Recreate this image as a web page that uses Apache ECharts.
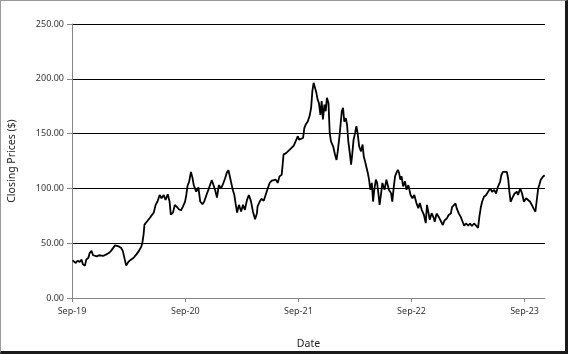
<!DOCTYPE html>
<html>
<head>
<meta charset="utf-8">
<script src="https://cdn.jsdelivr.net/npm/echarts@6/dist/echarts.min.js"></script>
<style>
html, body { margin: 0; padding: 0; background: #fff; }
#main { width: 568px; height: 354px; box-sizing: border-box; border: 1px solid #9a9a9a; border-right: 3px solid #1a1a1a; border-bottom: 3px solid #1a1a1a; }
</style>
</head>
<body>
<div id="main"></div>
<script>
// closing prices (roughly weekly)
var dates = [
    '2019-09-03', '2019-09-06', '2019-09-13', '2019-09-19', '2019-09-26', '2019-10-02', '2019-10-06', '2019-10-13', '2019-10-17', '2019-10-24',
    '2019-10-28', '2019-11-03', '2019-11-08', '2019-11-14', '2019-11-20', '2019-11-27', '2019-12-03', '2019-12-12', '2019-12-21', '2019-12-29',
    '2020-01-05', '2020-01-11', '2020-01-18', '2020-01-24', '2020-01-30', '2020-02-06', '2020-02-12', '2020-02-19', '2020-02-23', '2020-03-01',
    '2020-03-09', '2020-03-18', '2020-03-27', '2020-04-04', '2020-04-11', '2020-04-15', '2020-04-19', '2020-04-22', '2020-04-26', '2020-05-02',
    '2020-05-09', '2020-05-15', '2020-05-22', '2020-05-28', '2020-06-03', '2020-06-10', '2020-06-16', '2020-06-23', '2020-06-29', '2020-07-06',
    '2020-07-12', '2020-07-16', '2020-07-23', '2020-07-29', '2020-08-05', '2020-08-11', '2020-08-18', '2020-08-24', '2020-08-31', '2020-09-04',
    '2020-09-08', '2020-09-13', '2020-09-19', '2020-09-24', '2020-09-28', '2020-10-02', '2020-10-06', '2020-10-13', '2020-10-19', '2020-10-26',
    '2020-11-01', '2020-11-08', '2020-11-14', '2020-11-18', '2020-11-25', '2020-11-29', '2020-12-06', '2020-12-12', '2020-12-18', '2020-12-25',
    '2020-12-31', '2021-01-07', '2021-01-13', '2021-01-18', '2021-01-24', '2021-01-31', '2021-02-06', '2021-02-10', '2021-02-15', '2021-02-21',
    '2021-02-28', '2021-03-06', '2021-03-12', '2021-03-19', '2021-03-25', '2021-04-01', '2021-04-07', '2021-04-14', '2021-04-20', '2021-04-22',
    '2021-04-29', '2021-05-05', '2021-05-12', '2021-05-18', '2021-05-25', '2021-05-31', '2021-06-07', '2021-06-13', '2021-06-20', '2021-06-26',
    '2021-07-02', '2021-07-09', '2021-07-13', '2021-07-15', '2021-07-22', '2021-07-28', '2021-08-04', '2021-08-10', '2021-08-17', '2021-08-23',
    '2021-08-30', '2021-09-03', '2021-09-09', '2021-09-16', '2021-09-20', '2021-09-24', '2021-10-01', '2021-10-07', '2021-10-12', '2021-10-16',
    '2021-10-20', '2021-10-24', '2021-10-29', '2021-11-02', '2021-11-06', '2021-11-11', '2021-11-15', '2021-11-19', '2021-11-24', '2021-11-28',
    '2021-12-02', '2021-12-07', '2021-12-11', '2021-12-15', '2021-12-22', '2021-12-28', '2022-01-02', '2022-01-06', '2022-01-12', '2022-01-19',
    '2022-01-23', '2022-01-27', '2022-02-01', '2022-02-05', '2022-02-09', '2022-02-14', '2022-02-18', '2022-02-22', '2022-02-26', '2022-03-03',
    '2022-03-07', '2022-03-11', '2022-03-16', '2022-03-22', '2022-03-27', '2022-03-31', '2022-04-04', '2022-04-08', '2022-04-13', '2022-04-17',
    '2022-04-21', '2022-04-26', '2022-04-30', '2022-05-04', '2022-05-09', '2022-05-13', '2022-05-17', '2022-05-21', '2022-05-26', '2022-05-30',
    '2022-06-06', '2022-06-12', '2022-06-16', '2022-06-20', '2022-06-27', '2022-07-01', '2022-07-06', '2022-07-10', '2022-07-14', '2022-07-19',
    '2022-07-23', '2022-07-27', '2022-07-31', '2022-08-05', '2022-08-11', '2022-08-16', '2022-08-22', '2022-08-29', '2022-09-04', '2022-09-10',
    '2022-09-17', '2022-09-23', '2022-09-28', '2022-10-04', '2022-10-11', '2022-10-17', '2022-10-21', '2022-10-26', '2022-10-30', '2022-11-05',
    '2022-11-12', '2022-11-15', '2022-11-21', '2022-11-28', '2022-12-04', '2022-12-11', '2022-12-17', '2022-12-24', '2022-12-30', '2023-01-06',
    '2023-01-10', '2023-01-14', '2023-01-21', '2023-01-25', '2023-02-01', '2023-02-07', '2023-02-13', '2023-02-18', '2023-02-24', '2023-03-03',
    '2023-03-09', '2023-03-15', '2023-03-22', '2023-03-28', '2023-04-04', '2023-04-08', '2023-04-13', '2023-04-17', '2023-04-23', '2023-04-30',
    '2023-05-06', '2023-05-13', '2023-05-19', '2023-05-26', '2023-06-01', '2023-06-07', '2023-06-14', '2023-06-18', '2023-06-23', '2023-06-29',
    '2023-07-06', '2023-07-10', '2023-07-14', '2023-07-18', '2023-07-23', '2023-07-27', '2023-07-31', '2023-08-07', '2023-08-11', '2023-08-18',
    '2023-08-24', '2023-08-30', '2023-09-06', '2023-09-12', '2023-09-19', '2023-09-25', '2023-09-30', '2023-10-06', '2023-10-10', '2023-10-15',
    '2023-10-19', '2023-10-23', '2023-10-30', '2023-11-05'
]
var prices = [
    34.3, 35, 32, 34, 33, 35, 30.7, 29.5, 35, 36.7,
    41, 43, 39, 39.8, 38, 39, 37.3, 38.5, 39.8, 41,
    43, 44, 48, 48.8, 47, 45.8, 43, 34.3, 29.5, 33,
    35, 36.7, 39.8, 43, 46.4, 50, 57.8, 67, 68.4, 70.5,
    73, 74, 78, 85, 88, 94, 91, 94, 89.5, 94.6,
    88, 76, 78, 85, 83, 81, 80, 83.4, 88, 94,
    102.4, 106, 115, 109.6, 103, 100, 97, 101, 88, 85.5,
    88, 94, 98.5, 100, 107.5, 104.5, 98.5, 91.6, 103, 100,
    103.6, 109, 114.5, 116.5, 109, 100, 94, 86.5, 78, 85,
    79, 85, 80.4, 89.5, 94, 88, 79, 71.8, 77.4, 83.5,
    88, 90.5, 88.7, 94, 100, 105, 107, 106, 108, 105,
    111, 112.5, 124.7, 131, 132, 133, 135.4, 137, 139, 143,
    147.6, 144.5, 143, 146, 155, 158, 161, 166, 173.5, 188.7,
    196.3, 192.4, 187, 181, 178, 167, 179.6, 163, 176.5, 170.4,
    182.6, 178, 150.6, 143, 138.4, 131, 126, 134, 149, 170.4,
    173.5, 161, 164, 158, 143, 132, 121.6, 132, 144.5, 150.6,
    156.7, 150.6, 138.4, 133.8, 140, 129, 124.7, 120, 114, 108,
    98.8, 105, 88, 98.8, 108, 105, 95.7, 85, 95.7, 105,
    98.8, 108, 106.4, 98.8, 95.7, 88, 101.8, 111, 114, 117,
    114, 108, 111, 101.8, 106.4, 98.8, 103, 94, 91, 94,
    86.6, 82, 86.6, 80.5, 76, 68.3, 85, 77.4, 71.3, 77.4,
    72.9, 69.6, 77, 74, 72.6, 66.6, 71, 72.6, 75.7, 77,
    83, 81.8, 86.3, 81.8, 77, 74, 69.6, 66, 68, 66,
    68, 65.7, 68, 66.6, 64, 74, 83, 87.8, 92.4, 94,
    95.4, 100, 97, 98.5, 95.4, 101.5, 106, 112, 115, 113.7,
    115, 109, 97, 87.8, 91, 92.4, 95.4, 97, 94, 100,
    95.4, 87.8, 91, 92.4, 87.8, 86.3, 81.8, 78.7, 79.3, 100,
    103.6, 107.6, 110.6, 112
]
var xTicks = ['2019-09-01', '2020-09-01', '2021-09-01', '2022-09-01', '2023-09-01']
var xRange = ['2019-09-01', '2023-11-06']
var monthNames = ['Jan', 'Feb', 'Mar', 'Apr', 'May', 'Jun', 'Jul', 'Aug', 'Sep', 'Oct', 'Nov', 'Dec']

function toTime (s) {
    return echarts.number.parseDate(s).getTime()
}

var myChart = echarts.init(document.getElementById('main'))

var seriesData = []
for (var i = 0; i < dates.length; i++) {
    seriesData.push([toTime(dates[i]), prices[i]])
}
var tickValues = xTicks.map(toTime)

var labelFont = 'Noto Sans'

option = {
    animation: false,
    grid: {
        left: 71,
        right: 20,
        top: 23,
        bottom: 53,
        outerBoundsMode: 'none'
    },
    xAxis: {
        type: 'value',
        min: toTime(xRange[0]),
        max: toTime(xRange[1]),
        name: 'Date',
        nameLocation: 'middle',
        nameGap: 41,
        nameTextStyle: { color: '#222', fontSize: 10.5, fontFamily: labelFont },
        axisLine: { lineStyle: { color: '#868686', width: 1 } },
        axisTick: { show: true, length: 4, customValues: tickValues, lineStyle: { color: '#868686' } },
        axisLabel: {
            customValues: tickValues,
            color: '#333',
            fontSize: 9,
            fontFamily: labelFont,
            margin: 9,
            formatter: function (v) {
                var d = new Date(v)
                return monthNames[d.getMonth()] + '-' + String(d.getFullYear()).slice(2)
            }
        },
        splitLine: { show: false }
    },
    yAxis: {
        type: 'value',
        min: 0,
        max: 250,
        interval: 50,
        name: 'Closing Prices ($)',
        nameLocation: 'middle',
        nameGap: 54,
        nameTextStyle: { color: '#222', fontSize: 10.5, fontFamily: labelFont },
        axisLine: { show: true, lineStyle: { color: '#868686', width: 1 } },
        axisTick: { show: true, length: 5, lineStyle: { color: '#868686' } },
        axisLabel: {
            color: '#333',
            fontSize: 9,
            fontFamily: labelFont,
            margin: 8,
            formatter: function (v) { return v.toFixed(2) }
        },
        splitLine: { show: true, lineStyle: { color: '#000', width: 1 } }
    },
    series: [{
        name: 'Closing Price',
        type: 'line',
        data: seriesData,
        showSymbol: false,
        lineStyle: { color: '#000', width: 1.8 },
        z: 5
    }]
}

myChart.setOption(option)
</script>
</body>
</html>
